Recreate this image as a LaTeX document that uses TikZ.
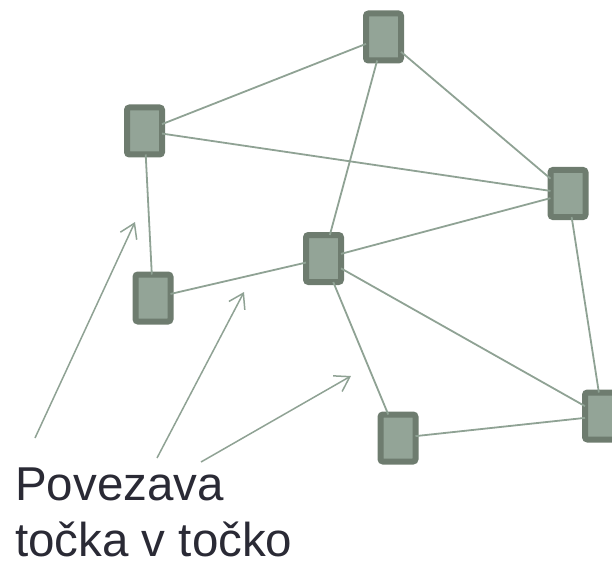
\documentclass[tikz,border=0pt]{standalone}
\usepackage{fontspec}
\setmainfont{Liberation Sans}
\usetikzlibrary{arrows.meta}
\definecolor{boxedge}{HTML}{6E7C6F}
\definecolor{boxfill}{HTML}{93A497}
\definecolor{linkcol}{HTML}{8FA294}
\definecolor{inkcol}{HTML}{2A2A35}
\tikzset{
  host/.style={draw=boxedge, fill=boxfill, line width=6pt, rounded corners=2.5pt,
    minimum width=35pt, minimum height=47pt, inner sep=0pt, outer sep=0pt},
  link/.style={draw=linkcol, line width=1.8pt},
  pointer/.style={draw=linkcol, line width=1.5pt, -{Straight Barb[length=14pt,width=18pt,line width=1.5pt]}},
  caption/.style={text=inkcol, font=\fontsize{47.5}{56}\selectfont, anchor=base west, inner sep=0pt}
}
\begin{document}
\begin{tikzpicture}[x=1pt,y=-1pt]
  \useasboundingbox (0,0) rectangle (612,561);
  % terminals
  \node[host] (a) at (383.5,37) {};
  \node[host] (b) at (144.5,131) {};
  \node[host] (c) at (568,193.5) {};
  \node[host] (d) at (323.5,258.5) {};
  \node[host] (e) at (153,298) {};
  \node[host] (f) at (398,438) {};
  \node[host] (g) at (602.5,416) {};
  % point-to-point links
  \draw[link] (b) -- (a);
  \draw[link] (a) -- (c);
  \draw[link] (a) -- (d);
  \draw[link] (b) -- (c);
  \draw[link] (b) -- (e);
  \draw[link] (e) -- (d);
  \draw[link] (d) -- (c);
  \draw[link] (d) -- (g);
  \draw[link] (d) -- (f);
  \draw[link] (f) -- (g);
  \draw[link] (c) -- (g);
  % caption
  \node[caption] (t1) at (15,500) {Povezava};
  \node[caption] (t2) at (15,556) {točka v točko};
  % pointers from the caption to the links
  \coordinate (s1) at (35,438);
  \coordinate (h1) at (135,222);
  \coordinate (s2) at (157,458);
  \coordinate (h2) at (244,292);
  \coordinate (s3) at (201,462);
  \coordinate (h3) at (351,376);
  \draw[pointer] (s1) -- (h1);
  \draw[pointer] (s2) -- (h2);
  \draw[pointer] (s3) -- (h3);
\end{tikzpicture}
\end{document}
